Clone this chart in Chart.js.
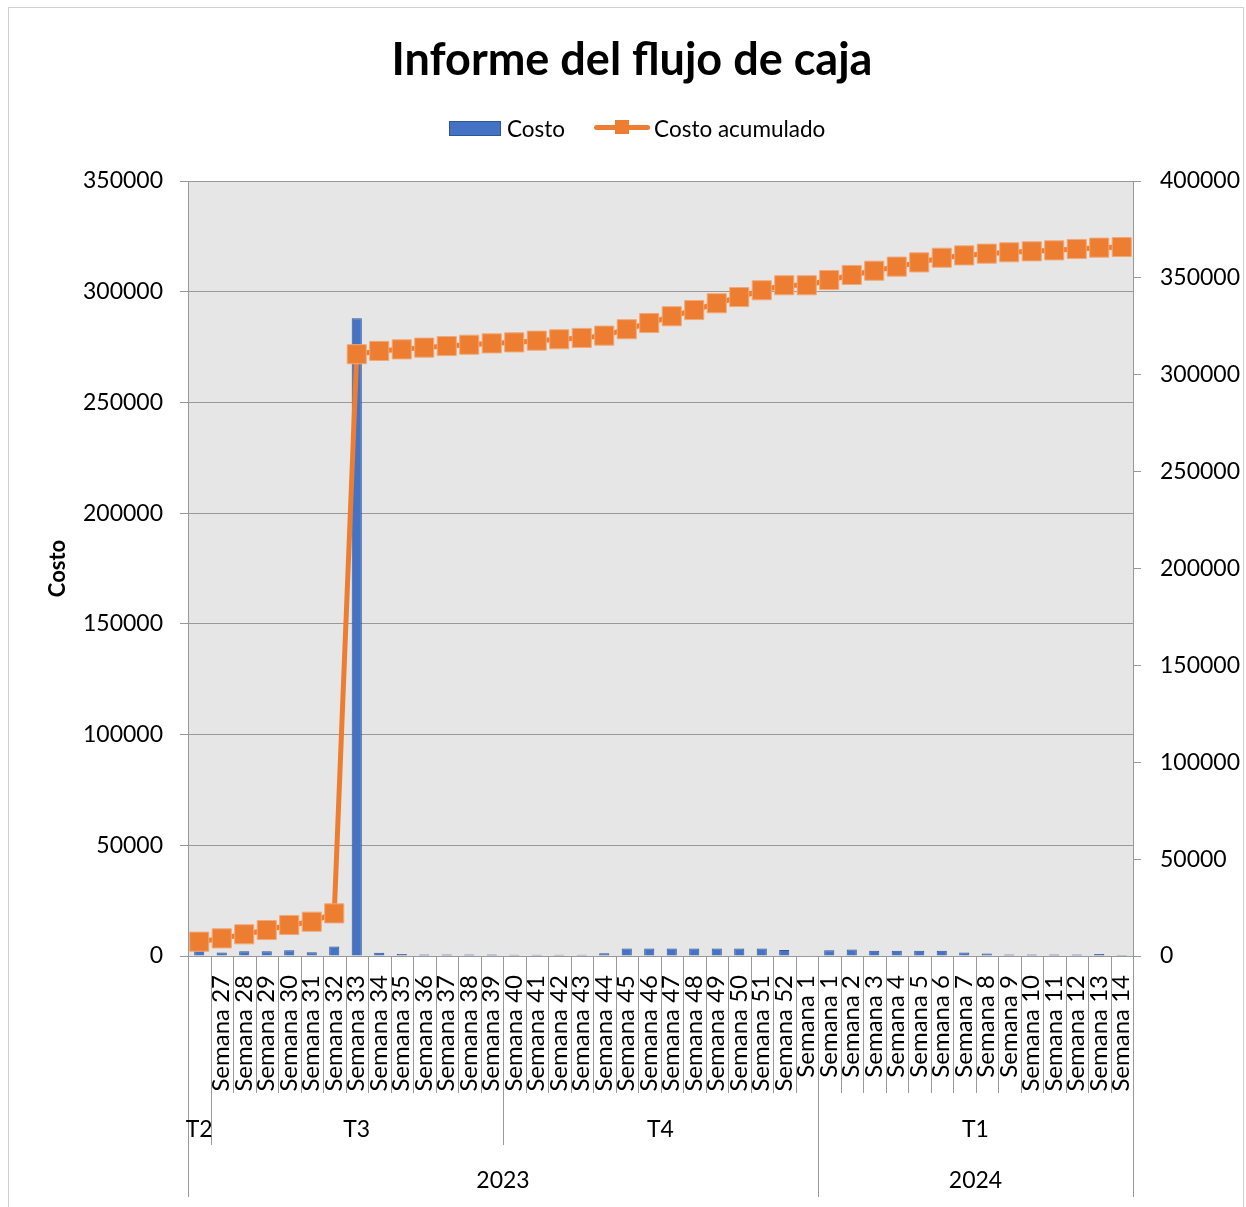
<!DOCTYPE html>
<html>
<head>
<meta charset="utf-8">
<script src="https://cdn.jsdelivr.net/npm/chart.js@4.4.1/dist/chart.umd.min.js"></script>
<style>
  body { margin: 0; background: #fff; }
  #wrap { position: relative; width: 1246px; height: 1207px; overflow: hidden; background: #fff; font-family: Lato, "Open Sans", sans-serif; }
  #frame { position: absolute; left: 8px; top: 7px; width: 1236px; height: 1220px; border: 1px solid #d0d0d0; box-sizing: border-box; }
  #c { position: absolute; left: 0; top: 0; }
  #title { position: absolute; left: 0; top: 32px; width: 1264px; text-align: center; font-size: 45px; font-weight: bold; line-height: 52px; color: #000; }
  #legend { position: absolute; left: 449px; top: 115px; height: 26px; display: flex; align-items: center; font-size: 22.5px; color: #000; }
  .barbox { width: 50px; height: 13px; background: #4472c4; border: 1px solid #2f5597; margin-right: 6px; }
  .linebox { position: relative; width: 56px; height: 26px; margin-left: 29px; margin-right: 4px; }
  .linebox .ln { position: absolute; left: 0; top: 10px; width: 56px; height: 5px; background: #ed7d31; border-radius: 3px; }
  .linebox .mk { position: absolute; left: 21px; top: 5px; width: 14px; height: 14px; background: #ed7d31; }
</style>
</head>
<body>
<div id="wrap">
  <div id="frame"></div>
  <canvas id="c" width="1246" height="1207"></canvas>
  <div id="title">Informe del flujo de caja</div>
  <div id="legend">
    <div class="barbox"></div><span>Costo</span>
    <div class="linebox"><div class="ln"></div><div class="mk"></div></div><span>Costo acumulado</span>
  </div>
</div>
<script>
// semanas (nivel 1 del eje X)
const weekLabels = [
  "",
  "Semana 27", "Semana 28", "Semana 29", "Semana 30", "Semana 31", "Semana 32", "Semana 33",
  "Semana 34", "Semana 35", "Semana 36", "Semana 37", "Semana 38", "Semana 39",
  "Semana 40", "Semana 41", "Semana 42", "Semana 43", "Semana 44", "Semana 45", "Semana 46",
  "Semana 47", "Semana 48", "Semana 49", "Semana 50", "Semana 51", "Semana 52", "Semana 1",
  "Semana 1", "Semana 2", "Semana 3", "Semana 4", "Semana 5", "Semana 6", "Semana 7",
  "Semana 8", "Semana 9", "Semana 10", "Semana 11", "Semana 12", "Semana 13", "Semana 14"
];
// trimestres y años (niveles 2 y 3), con cuantas semanas abarca cada uno
const quarterLabels = ["T2", "T3", "T4", "T1"];
const quarterSpans = [1, 13, 14, 14];
const yearLabels = ["2023", "2024"];
const yearSpans = [28, 14];

const costo = [
  2500, 1600, 2100, 2100, 2600, 1700, 4300, 288000,
  1500, 900, 700, 700, 700, 700,
  600, 600, 600, 600, 1200, 3400, 3400, 3400, 3400, 3400, 3400, 3400, 2700, 0,
  2600, 2900, 2400, 2400, 2400, 2400, 1600, 1100, 700, 700, 700, 700, 900, 500
];
const costoAcumulado = [
  7400, 9100, 11200, 13400, 16000, 17700, 22000, 310600,
  312300, 313100, 314000, 314800, 315500, 316200,
  316700, 317600, 318300, 319000, 320200, 323500, 326700, 330200, 333400, 336900, 340100, 343600, 346200, 346200,
  348900, 351500, 353700, 355800, 358000, 360400, 361600, 362500, 363200, 363700, 364200, 364900, 365600, 365900
];

const FONT = "Lato, 'Open Sans', sans-serif";
const GRID = "#999999";

// fondo gris del área de trazado + eje de categorías de varios niveles
const categoryFrame = {
  id: "categoryFrame",
  beforeDatasetsDraw(chart) {
    const { ctx, chartArea: a } = chart;
    ctx.save();
    ctx.globalCompositeOperation = "destination-over";
    ctx.fillStyle = "#e6e6e6";
    ctx.fillRect(a.left, a.top, a.right - a.left, a.bottom - a.top);
    ctx.restore();
  },
  afterDraw(chart) {
    const { ctx, chartArea: a } = chart;
    const x = chart.scales.x;
    const n = weekLabels.length;
    const step = x.getPixelForValue(1) - x.getPixelForValue(0);
    const edge = i => x.getPixelForValue(i) - step / 2;

    const qEdges = [0];
    quarterSpans.forEach(s => qEdges.push(qEdges[qEdges.length - 1] + s));
    const yEdges = [0];
    yearSpans.forEach(s => yEdges.push(yEdges[yEdges.length - 1] + s));

    ctx.save();
    ctx.strokeStyle = GRID;
    ctx.lineWidth = 1;
    for (let i = 0; i <= n; i++) {
      let end = 1093;
      if (qEdges.includes(i)) end = 1145;
      if (yEdges.includes(i)) end = 1197;
      const px = Math.round(edge(i)) + 0.5;
      ctx.beginPath();
      ctx.moveTo(px, a.bottom);
      ctx.lineTo(px, end);
      ctx.stroke();
    }

    ctx.fillStyle = "#000";
    ctx.font = "23px " + FONT;
    ctx.textAlign = "center";
    ctx.textBaseline = "middle";
    quarterLabels.forEach((t, k) => {
      ctx.fillText(t, (edge(qEdges[k]) + edge(qEdges[k + 1])) / 2, 1130);
    });
    yearLabels.forEach((t, k) => {
      ctx.fillText(t, (edge(yEdges[k]) + edge(yEdges[k + 1])) / 2, 1181);
    });
    ctx.restore();
  }
};

const plainNumber = v => String(v);

new Chart(document.getElementById("c"), {
  data: {
    labels: weekLabels,
    datasets: [
      {
        type: "line",
        label: "Costo acumulado",
        data: costoAcumulado,
        yAxisID: "y2",
        order: 0,
        borderColor: "#ed7d31",
        backgroundColor: "#ed7d31",
        borderWidth: 5,
        tension: 0,
        pointStyle: "rect",
        pointRadius: 13.5,
        pointBackgroundColor: "#ed7d31",
        pointBorderColor: "#f3a877",
        pointBorderWidth: 1,
        fill: false
      },
      {
        type: "bar",
        label: "Costo",
        data: costo,
        yAxisID: "y",
        order: 1,
        backgroundColor: "#4472c4",
        borderColor: "#2f5597",
        borderWidth: 1,
        categoryPercentage: 1,
        barPercentage: 0.45
      }
    ]
  },
  options: {
    responsive: false,
    animation: false,
    layout: { padding: { top: 181, left: 0, right: 0, bottom: 0 } },
    plugins: {
      legend: { display: false },
      tooltip: { enabled: false }
    },
    scales: {
      x: {
        type: "category",
        offset: true,
        grid: { display: false, drawTicks: false },
        border: { display: true, color: GRID, width: 1 },
        ticks: {
          autoSkip: false,
          minRotation: 90,
          maxRotation: 90,
          padding: 19,
          color: "#000",
          font: { family: FONT, size: 24 }
        },
        afterFit(scale) { scale.height = 251; }
      },
      y: {
        position: "left",
        min: 0,
        max: 350000,
        ticks: {
          stepSize: 50000,
          padding: 17,
          color: "#000",
          font: { family: FONT, size: 23 },
          callback: plainNumber
        },
        grid: { color: GRID, tickLength: 8, lineWidth: 1 },
        border: { display: true, color: GRID, width: 1 },
        title: {
          display: true,
          text: "Costo",
          color: "#000",
          font: { family: FONT, size: 22, weight: "bold" },
          padding: { top: 45, bottom: 0 }
        },
        afterFit(scale) { scale.width = 188; }
      },
      y2: {
        position: "right",
        min: 0,
        max: 400000,
        ticks: {
          stepSize: 50000,
          padding: 19,
          color: "#000",
          font: { family: FONT, size: 23 },
          callback: plainNumber
        },
        grid: { drawOnChartArea: false, color: GRID, tickLength: 8 },
        border: { display: true, color: GRID, width: 1 },
        afterFit(scale) { scale.width = 113; }
      }
    }
  },
  plugins: [categoryFrame]
});
</script>
</body>
</html>
